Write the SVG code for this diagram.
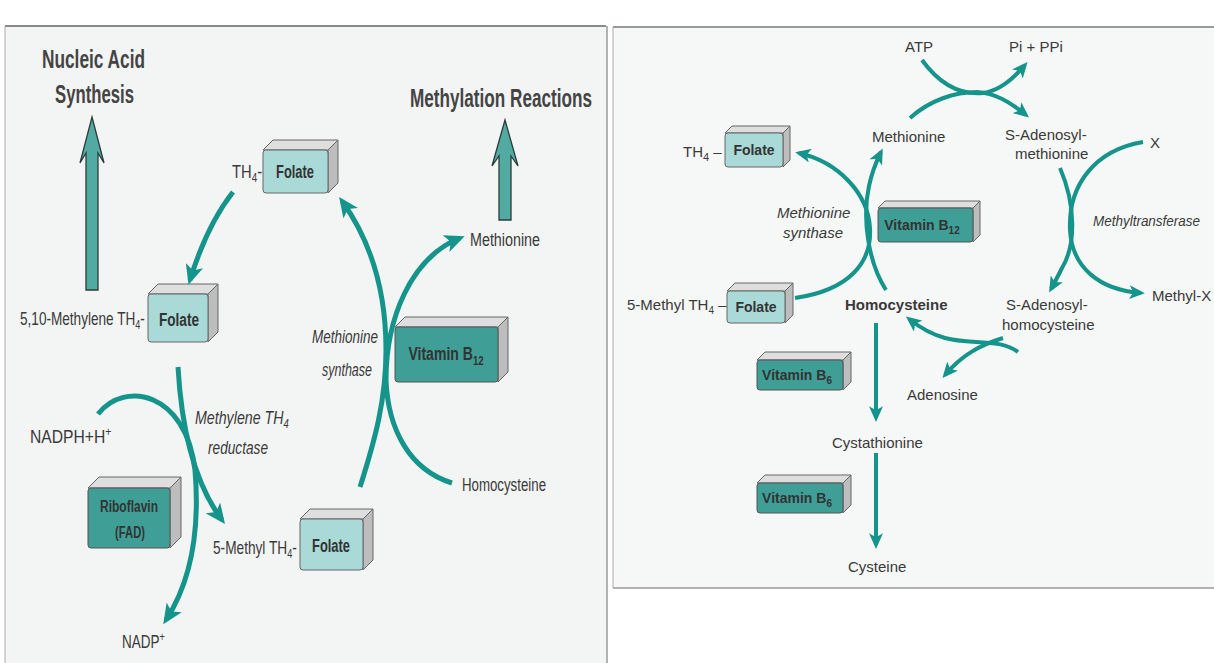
<svg xmlns="http://www.w3.org/2000/svg" width="1214" height="663" viewBox="0 0 1214 663">
<defs>
<style>
.lt{font-family:"Liberation Sans",Arial,sans-serif;fill:#3a3a3a;font-size:18px}
.rt{font-family:"Liberation Sans",Arial,sans-serif;fill:#3a3a3a;font-size:15px}
.it{font-style:italic}
.b{font-weight:bold}
.head{font-family:"Liberation Sans",Arial,sans-serif;font-weight:bold;fill:#444;font-size:25px}
.conn{fill:none;stroke:#15948b;stroke-width:5}
.connR{fill:none;stroke:#15948b;stroke-width:4}
.top{fill:#dedede;stroke:#666;stroke-width:1}
.side{fill:#bdbdbd;stroke:#666;stroke-width:1}
.fl{fill:#a9dad7;stroke:#666;stroke-width:1}
.vt{fill:#3f9f97;stroke:#555;stroke-width:1}
.big{fill:#52aba3;stroke:#2e3b3b;stroke-width:1.3}
.bt{font-family:"Liberation Sans",Arial,sans-serif;font-weight:bold;fill:#333;text-anchor:middle}
.btr{font-family:"Liberation Sans",Arial,sans-serif;font-weight:bold;fill:#333;text-anchor:middle;font-size:14px}
</style>
<marker id="ah" markerUnits="userSpaceOnUse" viewBox="0 0 20 18" markerWidth="20" markerHeight="18" refX="15" refY="9" orient="auto">
<path d="M0,0 L20,9 L0,18 L5,9 z" fill="#15948b"/>
</marker>
<marker id="ahR" markerUnits="userSpaceOnUse" viewBox="0 0 20 18" markerWidth="16" markerHeight="14" refX="15" refY="9" orient="auto">
<path d="M0,0 L20,9 L0,18 L5,9 z" fill="#15948b"/>
</marker>
</defs>

<rect x="0" y="0" width="1214" height="663" fill="#ffffff"/>
<!-- left panel -->
<rect x="5" y="26" width="602" height="640" fill="#f3f4f4"/>
<line x1="5" y1="26" x2="606" y2="26" stroke="#8a8a8a" stroke-width="2"/>
<line x1="5" y1="26" x2="5" y2="663" stroke="#aaa" stroke-width="1"/>
<line x1="607" y1="26" x2="607" y2="663" stroke="#9a9a9a" stroke-width="1.5"/>
<!-- right panel -->
<rect x="613" y="27" width="601" height="561" fill="#f6f7f7"/>
<line x1="613" y1="27" x2="1214" y2="27" stroke="#999" stroke-width="2"/>
<line x1="613" y1="27" x2="613" y2="588" stroke="#aaa" stroke-width="1"/>
<line x1="613" y1="588" x2="1214" y2="588" stroke="#999" stroke-width="1.5"/>

<!-- ===== LEFT PANEL ===== -->
<g id="heading-nucleic">
<text class="head" x="42" y="68" textLength="103" lengthAdjust="spacingAndGlyphs">Nucleic Acid</text>
<text class="head" x="55" y="103" textLength="79" lengthAdjust="spacingAndGlyphs">Synthesis</text>
</g>
<g id="arrow-nucleic">
<polygon class="big" points="92,117 104,163 98,153 98,290 86,290 86,153 80,163"/>
</g>
<g id="heading-methylation">
<text class="head" x="410" y="107" textLength="182" lengthAdjust="spacingAndGlyphs">Methylation Reactions</text>
</g>
<g id="arrow-methylation">
<polygon class="big" points="505,120 518,166 511,156 511,220 499,220 499,156 492,166"/>
</g>

<g id="L-th4-folate">
<text class="lt" transform="translate(232,178) scale(0.82,1)">TH<tspan font-size="12" dy="4">4</tspan><tspan dy="-4">-</tspan></text>
<polygon class="top" points="263,150 273,140 338,140 328,150"/>
<polygon class="side" points="328,150 338,140 338,183 328,193"/>
<rect class="fl" x="263" y="150" width="65" height="43" rx="3"/>
<text class="bt" x="295" y="178" font-size="18" textLength="38" lengthAdjust="spacingAndGlyphs">Folate</text>
</g>

<g id="L-methylene-folate">
<text class="lt" transform="translate(20,325) scale(0.755,1)">5,10-Methylene TH<tspan font-size="12" dy="4">4</tspan><tspan dy="-4">-</tspan></text>
<polygon class="top" points="148,294 158,284 218,284 208,294"/>
<polygon class="side" points="208,294 218,284 218,332 208,342"/>
<rect class="fl" x="148" y="294" width="60" height="48" rx="3"/>
<text class="bt" x="179" y="326" font-size="18" textLength="40" lengthAdjust="spacingAndGlyphs">Folate</text>
</g>

<g id="L-nadph"><text class="lt" transform="translate(30,443) scale(0.87,1)">NADPH+H<tspan font-size="12" dy="-7">+</tspan></text></g>
<g id="L-nadp"><text class="lt" transform="translate(122,648) scale(0.75,1)">NADP<tspan font-size="12" dy="-7">+</tspan></text></g>
<g id="L-reductase">
<text class="lt it" transform="translate(195,424) scale(0.79,1)">Methylene TH<tspan font-size="12" dy="4">4</tspan></text>
<text class="lt it" x="208" y="454" textLength="60" lengthAdjust="spacingAndGlyphs">reductase</text>
</g>

<g id="L-riboflavin">
<polygon class="top" points="88,488 99,477 181,477 170,488"/>
<polygon class="side" points="170,488 181,477 181,537 170,548"/>
<rect class="vt" x="88" y="488" width="82" height="60" rx="3"/>
<text class="bt" x="129" y="512" font-size="16" fill="#3a3a3a" textLength="58" lengthAdjust="spacingAndGlyphs">Riboflavin</text>
<text class="bt" x="130" y="538" font-size="16" fill="#3a3a3a" textLength="30" lengthAdjust="spacingAndGlyphs">(FAD)</text>
</g>

<g id="L-5methyl-folate">
<text class="lt" transform="translate(213,554) scale(0.76,1)">5-Methyl TH<tspan font-size="12" dy="4">4</tspan><tspan dy="-4">-</tspan></text>
<polygon class="top" points="300,519 310,509 373,509 363,519"/>
<polygon class="side" points="363,519 373,509 373,560 363,570"/>
<rect class="fl" x="300" y="519" width="63" height="51" rx="3"/>
<text class="bt" x="331" y="552" font-size="18" textLength="38" lengthAdjust="spacingAndGlyphs">Folate</text>
</g>

<g id="L-synthase">
<text class="lt it" x="312" y="343" textLength="66" lengthAdjust="spacingAndGlyphs">Methionine</text>
<text class="lt it" x="322" y="376" textLength="50" lengthAdjust="spacingAndGlyphs">synthase</text>
</g>

<g id="L-vitb12">
<polygon class="top" points="395,327 405,317 508,317 498,327"/>
<polygon class="side" points="498,327 508,317 508,372 498,382"/>
<rect class="vt" x="395" y="327" width="103" height="55" rx="3"/>
<text class="bt" transform="translate(446,360) scale(0.74,1)" font-size="19">Vitamin B<tspan font-size="13" dy="5">12</tspan></text>
</g>

<g id="L-methionine"><text class="lt" x="470" y="246" textLength="70" lengthAdjust="spacingAndGlyphs">Methionine</text></g>
<g id="L-homocysteine"><text class="lt" x="462" y="491" textLength="84" lengthAdjust="spacingAndGlyphs">Homocysteine</text></g>

<g id="L-connectors">
<path class="conn" d="M 233 192 Q 207 225 190 280" marker-end="url(#ah)"/>
<path class="conn" d="M 178 367 C 181 420, 192 480, 222 520" marker-end="url(#ah)"/>
<path class="conn" d="M 98 414 C 125 380, 186 392, 195 470 C 200 530, 192 580, 166 620" marker-end="url(#ah)"/>
<path class="conn" d="M 360 487 C 375 440, 386 400, 386 350 C 386 290, 370 240, 342 201" marker-end="url(#ah)"/>
<path class="conn" d="M 452 483 C 410 470, 388 430, 386 380 C 386 320, 410 258, 460 238" marker-end="url(#ah)"/>
</g>

<!-- ===== RIGHT PANEL ===== -->
<g id="R-atp"><text class="rt" x="905" y="52">ATP</text></g>
<g id="R-pippi"><text class="rt" x="1009" y="52">Pi + PPi</text></g>
<g id="R-methionine"><text class="rt" x="872" y="142">Methionine</text></g>
<g id="R-sam">
<text class="rt" x="1005" y="140">S-Adenosyl-</text>
<text class="rt" x="1015" y="159">methionine</text>
</g>
<g id="R-x"><text class="rt" x="1150" y="148">X</text></g>
<g id="R-methyltransferase"><text class="rt it" x="1093" y="226" textLength="107" lengthAdjust="spacingAndGlyphs">Methyltransferase</text></g>
<g id="R-methylx"><text class="rt" x="1152" y="301">Methyl-X</text></g>
<g id="R-sah">
<text class="rt" x="1006" y="310">S-Adenosyl-</text>
<text class="rt" x="1002" y="330">homocysteine</text>
</g>
<g id="R-homocysteine"><text class="rt b" x="845" y="310">Homocysteine</text></g>
<g id="R-adenosine"><text class="rt" x="907" y="400">Adenosine</text></g>
<g id="R-synthase">
<text class="rt it" x="777" y="218">Methionine</text>
<text class="rt it" x="783" y="238">synthase</text>
</g>
<g id="R-cystathionine"><text class="rt" x="832" y="448">Cystathionine</text></g>
<g id="R-cysteine"><text class="rt" x="848" y="572">Cysteine</text></g>

<g id="R-th4-folate">
<text class="rt" x="683" y="157">TH<tspan font-size="11" dy="4">4</tspan><tspan dy="-4"> –</tspan></text>
<polygon class="top" points="725,133 732,126 790,126 783,133"/>
<polygon class="side" points="783,133 790,126 790,160 783,167"/>
<rect class="fl" x="725" y="133" width="58" height="34" rx="3"/>
<text class="btr" x="754" y="155">Folate</text>
</g>

<g id="R-5methyl-folate">
<text class="rt" x="627" y="310" font-size="14">5-Methyl TH<tspan font-size="10" dy="4">4</tspan><tspan dy="-4"> –</tspan></text>
<polygon class="top" points="727,291 735,283 793,283 785,291"/>
<polygon class="side" points="785,291 793,283 793,315 785,323"/>
<rect class="fl" x="727" y="291" width="58" height="32" rx="3"/>
<text class="btr" x="756" y="312">Folate</text>
</g>

<g id="R-vitb12">
<polygon class="top" points="878,208 885,201 980,201 973,208"/>
<polygon class="side" points="973,208 980,201 980,235 973,242"/>
<rect class="vt" x="878" y="208" width="95" height="34" rx="3"/>
<text class="btr" x="922" y="230">Vitamin B<tspan font-size="10" dy="4">12</tspan></text>
</g>

<g id="R-vitb6-1">
<polygon class="top" points="757,360 765,352 851,352 843,360"/>
<polygon class="side" points="843,360 851,352 851,382 843,390"/>
<rect class="vt" x="757" y="360" width="86" height="30" rx="3"/>
<text class="btr" x="797" y="380">Vitamin B<tspan font-size="10" dy="4">6</tspan></text>
</g>

<g id="R-vitb6-2">
<polygon class="top" points="757,483 765,475 851,475 843,483"/>
<polygon class="side" points="843,483 851,475 851,505 843,513"/>
<rect class="vt" x="757" y="483" width="86" height="30" rx="3"/>
<text class="btr" x="797" y="503">Vitamin B<tspan font-size="10" dy="4">6</tspan></text>
</g>

<g id="R-connectors">
<path class="connR" d="M 922 60 C 940 85, 960 95, 983 93 C 1000 91, 1014 78, 1025 65" marker-end="url(#ahR)"/>
<path class="connR" d="M 910 118 C 930 100, 955 92, 977 92 C 995 93, 1010 102, 1026 115" marker-end="url(#ahR)"/>
<path class="connR" d="M 1143 142 C 1095 150, 1068 185, 1070 230 C 1072 268, 1100 290, 1141 293" marker-end="url(#ahR)"/>
<path class="connR" d="M 1060 168 C 1076 205, 1076 245, 1062 268 C 1058 276, 1055 282, 1051 289" marker-end="url(#ahR)"/>
<path class="connR" d="M 1018 352 C 1000 338, 970 345, 945 338 C 930 334, 918 326, 909 319" marker-end="url(#ahR)"/>
<path class="connR" d="M 1003 338 C 980 345, 962 355, 945 375" marker-end="url(#ahR)"/>
<path class="connR" d="M 795 298 C 850 290, 872 262, 870 228 C 868 193, 838 162, 799 153" marker-end="url(#ahR)"/>
<path class="connR" d="M 886 290 C 868 262, 862 218, 869 186 C 872 172, 876 162, 881 152" marker-end="url(#ahR)"/>
<path class="connR" d="M 876 323 L 876 418" marker-end="url(#ahR)"/>
<path class="connR" d="M 876 453 L 876 545" marker-end="url(#ahR)"/>
</g>
</svg>
